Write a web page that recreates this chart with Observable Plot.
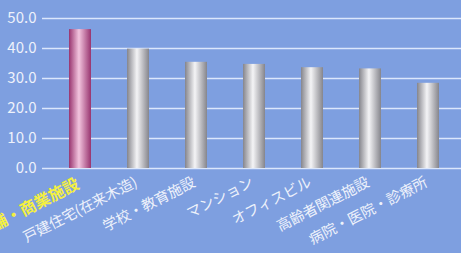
<!DOCTYPE html>
<html><head><meta charset="utf-8">
<script src="https://cdn.jsdelivr.net/npm/d3@7"></script>
<script src="https://cdn.jsdelivr.net/npm/@observablehq/plot@0.6"></script>
<style>
html,body{margin:0;padding:0;background:#7e9fe0;overflow:hidden}
</style></head>
<body><div id="chart"></div>
<script>
const categories = ["店舗・商業施設","戸建住宅(在来木造)","学校・教育施設","マンション","オフィスビル","高齢者関連施設","病院・医院・診療所"];
const values = [46.3, 39.8, 35.4, 34.7, 33.6, 33.2, 28.4];
const yTicks = [0, 10, 20, 30, 40, 50];
const highlight = "店舗・商業施設";

const data = categories.map((c, i) => ({category: c, value: values[i]}));

const defs = () => {
  const g = d3.create("svg:defs");
  const mk = (id, edge, mid) => {
    const lg = g.append("linearGradient").attr("id", id).attr("x1", "0").attr("x2", "1").attr("y1", "0").attr("y2", "0");
    lg.append("stop").attr("offset", "0").attr("stop-color", edge);
    lg.append("stop").attr("offset", "0.45").attr("stop-color", mid);
    lg.append("stop").attr("offset", "1").attr("stop-color", edge);
  };
  mk("gGrey", "#85858c", "#f4f4f6");
  mk("gPink", "#98346f", "#f2c4de");
  return g.node();
};

const labelOpts = {x: "category", frameAnchor: "bottom", dy: 17, dx: 0, rotate: -27, textAnchor: "end", text: "category", fontSize: 14.5};

const chart = Plot.plot({
  width: 461,
  height: 253,
  marginLeft: 42,
  marginRight: 0,
  marginTop: 18,
  marginBottom: 85,
  style: {background: "#7e9fe0", fontFamily: "'Noto Sans CJK JP', 'Noto Sans', sans-serif"},
  x: {domain: categories, insetLeft: 7, insetRight: 1, paddingInner: 0.62, paddingOuter: 0.31, axis: null},
  y: {domain: [0, 50], axis: null},
  marks: [
    defs,
    Plot.ruleY(yTicks, {stroke: "#e6eeff", strokeWidth: 1.5, strokeOpacity: 0.9}),
    Plot.barY(data, {x: "category", y: "value", fill: d => d.category === highlight ? "url(#gPink)" : "url(#gGrey)"}),
    Plot.text(yTicks, {frameAnchor: "left", y: d => d, text: d => d3.format(".1f")(d), textAnchor: "end", dx: -6, fill: "#eef2fb", fontSize: 15}),
    Plot.text(data.filter(d => d.category !== highlight), {...labelOpts, fill: "#eef2fb"}),
    Plot.text(data.filter(d => d.category === highlight), {...labelOpts, dy: 19, fontSize: 16, fill: "#f4f040", fontWeight: "bold"})
  ]
});
document.getElementById("chart").appendChild(chart);
</script>
</body></html>
